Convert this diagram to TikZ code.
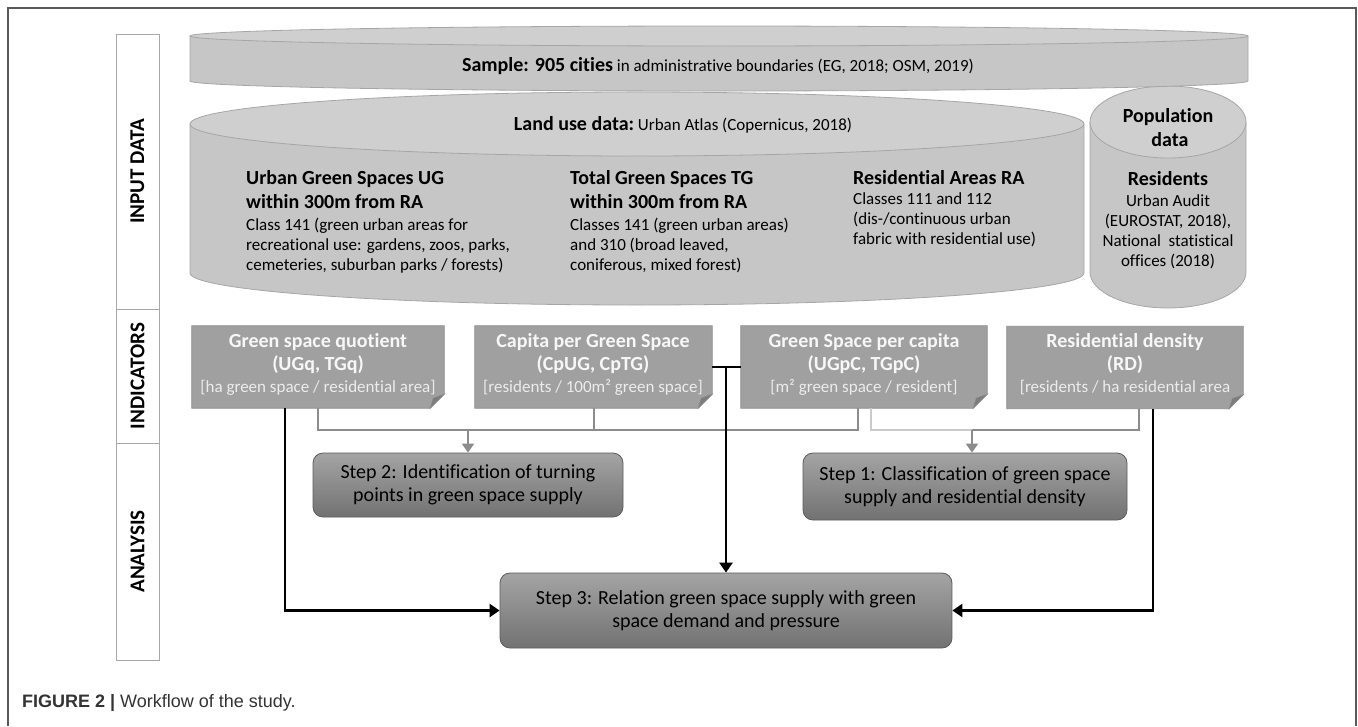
\documentclass[tikz,border=0pt]{standalone}
\usepackage{fontspec}
\setmainfont{Carlito}[Ligatures=NoCommon]
\newfontfamily\capfont{Liberation Sans}
\usetikzlibrary{arrows.meta,backgrounds}
\definecolor{framec}{HTML}{5A5A5A}
\definecolor{lblline}{HTML}{A8A8A8}
\definecolor{cylside}{HTML}{C6C6C6}
\definecolor{cyltop}{HTML}{CFCFCF}
\definecolor{cyledge}{HTML}{A6A6A6}
\definecolor{indfill}{HTML}{A0A0A0}
\definecolor{indedge}{HTML}{8A8A8A}
\definecolor{indfold}{HTML}{7C7C7C}
\definecolor{indtxt}{HTML}{F7F7F7}
\definecolor{brktxt}{HTML}{ECECEC}
\definecolor{conn}{HTML}{8C8C8C}
\definecolor{connlt}{HTML}{CACACA}
\definecolor{steptop}{HTML}{A4A4A4}
\definecolor{stepbot}{HTML}{727272}
\definecolor{stepedge}{HTML}{5C5C5C}
\definecolor{captxt}{HTML}{333333}
\newcommand\fhd{\fontsize{20}{24}\selectfont\bfseries}
\newcommand\fbd{\fontsize{17}{20}\selectfont\mdseries}
\tikzset{
  lbl/.style={draw=lblline, line width=1pt, fill=white, rotate=90, inner sep=0,
    font=\fontsize{21}{24}\selectfont\bfseries},
  txt/.style={inner sep=0, anchor=base west},
  ctxt/.style={inner sep=0, anchor=base},
  indbox/.style={inner sep=0, draw=none},
  indh/.style={inner sep=0, anchor=base, text=indtxt, font=\fhd},
  indb/.style={inner sep=0, anchor=base, text=brktxt, font=\fbd},
  stepbox/.style={draw=stepedge, line width=0.8pt, rounded corners=10pt,
    top color=steptop, bottom color=stepbot, align=center,
    font=\fontsize{20}{23}\selectfont, inner sep=0},
  gconn/.style={draw=conn, line width=2pt},
  lconn/.style={draw=connlt, line width=2pt},
  garrow/.style={draw=conn, line width=2pt, -{Triangle[length=9pt,width=12pt]}, color=conn},
  bline/.style={draw=black, line width=2.6pt},
  barrow/.style={draw=black, line width=2.6pt, -{Triangle[length=10pt,width=13pt]}},
}
\newcommand\notebox[1]{%
  \filldraw[fill=indfill, draw=indedge, line width=0.8pt]
    (#1.north west) -- (#1.north east) -- ([yshift=14pt]#1.south east)
    -- ([xshift=-14pt]#1.south east) -- (#1.south west) -- cycle;
  \filldraw[fill=indfold, draw=indedge, line width=0.6pt]
    ([yshift=14pt]#1.south east) -- ([xshift=-14pt]#1.south east)
    -- ([shift={(-11pt,10pt)}]#1.south east) -- cycle;}
\begin{document}
\begin{tikzpicture}[x=1pt,y=-1pt]
\useasboundingbox (0,0) rectangle (1358,726);
% frame
\draw[framec, line width=1.2pt] (8,726) -- (8,8) -- (1356,8) -- (1356,726);
% side labels
\node[lbl, minimum width=275pt, minimum height=43pt] (lin) at (137.5,171.5) {INPUT DATA};
\node[lbl, minimum width=134pt, minimum height=43pt] (lind) at (137.5,376) {INDICATORS};
\node[lbl, minimum width=217pt, minimum height=43pt] (lan) at (137.5,551.5) {ANALYSIS};
% land use cylinder
\fill[cylside] (190,124) -- (190,273) arc[start angle=180, end angle=0, x radius=447, y radius=32] -- (1084,124) -- cycle;
\draw[cyledge, line width=0.8pt] (190,124) -- (190,273) arc[start angle=180, end angle=0, x radius=447, y radius=32] -- (1084,124);
\draw[cyledge, line width=0.8pt, fill=cyltop] (637,124) ellipse[x radius=447, y radius=32];
% population cylinder
\fill[cylside] (1090,122) -- (1090,272) arc[start angle=180, end angle=0, x radius=78, y radius=36] -- (1246,122) -- cycle;
\draw[cyledge, line width=0.8pt] (1090,122) -- (1090,272) arc[start angle=180, end angle=0, x radius=78, y radius=36] -- (1246,122);
\draw[cyledge, line width=0.8pt, fill=cyltop] (1168,122) ellipse[x radius=78, y radius=36];
% sample disk
\fill[cylside] (190,36) -- (190,81) arc[start angle=180, end angle=0, x radius=529, y radius=10] -- (1248,36) -- cycle;
\draw[cyledge, line width=0.8pt] (190,36) -- (190,81) arc[start angle=180, end angle=0, x radius=529, y radius=10] -- (1248,36);
\draw[cyledge, line width=0.8pt, fill=cyltop] (719,36) ellipse[x radius=529, y radius=10];
% cylinder texts
\node[ctxt] (sample) at (718,71) {{\fhd Sample: 905 cities}{\fbd\ in administrative boundaries (EG, 2018; OSM, 2019)}};
\node[ctxt] (landuse) at (683,130) {{\fhd Land use data:}{\fbd\ Urban Atlas (Copernicus, 2018)}};
\node[txt, font=\fhd] (ug1) at (246,184) {Urban Green Spaces UG};
\node[txt, font=\fhd] (ug2) at (246,208) {within 300m from RA};
\node[txt, font=\fbd] (ug3) at (246,230) {Class 141 (green urban areas for};
\node[txt, font=\fbd] (ug4) at (246,250) {recreational use: gardens, zoos, parks,};
\node[txt, font=\fbd] (ug5) at (246,270) {cemeteries, suburban parks / forests)};
\node[txt, font=\fhd] (tg1) at (570,184) {Total Green Spaces TG};
\node[txt, font=\fhd] (tg2) at (570,208) {within 300m from RA};
\node[txt, font=\fbd] (tg3) at (570,230) {Classes 141 (green urban areas)};
\node[txt, font=\fbd] (tg4) at (570,250) {and 310 (broad leaved,};
\node[txt, font=\fbd] (tg5) at (570,270) {coniferous, mixed forest)};
\node[txt, font=\fhd] (ra1) at (853,184) {Residential Areas RA};
\node[txt, font=\fbd] (ra2) at (853,204) {Classes 111 and 112};
\node[txt, font=\fbd] (ra3) at (853,224) {(dis-/continuous urban};
\node[txt, font=\fbd] (ra4) at (853,244) {fabric with residential use)};
\node[ctxt, font=\fhd] (pop1) at (1168,122) {Population};
\node[ctxt, font=\fhd] (pop2) at (1170,146) {data};
\node[ctxt, font=\fhd] (res1) at (1168,185) {Residents};
\node[ctxt, font=\fbd] (res2) at (1168,206) {Urban Audit};
\node[ctxt, font=\fbd] (res3) at (1168,226) {(EUROSTAT, 2018),};
\node[ctxt, font=\fbd] (res4) at (1168,246) {National\ \ statistical};
\node[ctxt, font=\fbd] (res5) at (1168,266) {offices (2018)};
% indicator boxes
\node[indbox, minimum width=252pt, minimum height=82pt] (b1) at (318,367) {};
\node[indbox, minimum width=237pt, minimum height=82pt] (b2) at (593.5,367) {};
\node[indbox, minimum width=246pt, minimum height=82pt] (b3) at (864,367) {};
\node[indbox, minimum width=236pt, minimum height=82pt] (b4) at (1125,367.5) {};
\begin{scope}[on background layer]
\notebox{b1}\notebox{b2}\notebox{b3}\notebox{b4}
\end{scope}
\node[indh] (b1a) at (318,347) {Green space quotient};
\node[indh] (b1b) at (318,370) {(UGq, TGq)};
\node[indb] (b1c) at (318,392) {[ha green space / residential area]};
\node[indh] (b2a) at (593,347) {Capita per Green Space};
\node[indh] (b2b) at (593,370) {(CpUG, CpTG)};
\node[indb] (b2c) at (593,392) {[residents / 100m² green space]};
\node[indh] (b3a) at (864,347) {Green Space per capita};
\node[indh] (b3b) at (864,370) {(UGpC, TGpC)};
\node[indb] (b3c) at (864,392) {[m² green space / resident]};
\node[indh] (b4a) at (1125,347) {Residential density};
\node[indh] (b4b) at (1125,370) {(RD)};
\node[indb] (b4c) at (1125,392) {[residents / ha residential area};
% step boxes
\node[stepbox, minimum width=310pt, minimum height=64pt] (s2) at (468,485) {Step 2: Identification of turning\\points in green space supply};
\node[stepbox, minimum width=324pt, minimum height=67pt] (s1) at (965,486.5) {Step 1: Classification of green space\\supply and residential density};
\node[stepbox, minimum width=452pt, minimum height=75pt] (s3) at (726,610.5) {Step 3: Relation green space supply with green\\space demand and pressure};
% gray connectors to step 2
\coordinate (g2) at (s2.north |- 0,430);
\draw[gconn] (b1.south) |- ([xshift=-6pt]b3.south |- g2) -- ([xshift=-6pt]b3.south);
\draw[gconn] (b2.south) -- (b2.south |- g2);
\draw[garrow] (g2) -- (s2.north);
% connectors to step 1
\coordinate (s1in) at ([xshift=7pt]s1.north);
\coordinate (g1) at (s1in |- 0,430);
\draw[lconn] ([xshift=7pt]b3.south) |- (g1);
\draw[gconn] ([xshift=14pt]b4.south) |- (g1);
\draw[garrow] (g1) -- (s1in);
% black connectors to step 3
\draw[barrow] ([xshift=-33pt]b1.south) |- (s3.west);
\draw[barrow] ([xshift=28pt]b4.south) |- (s3.east);
\draw[bline] (b2.east) -- (b3.west);
\coordinate (mid) at (s3.north |- b2.east);
\draw[barrow] ([yshift=1.3pt]mid) -- (s3.north);
% caption
\node[txt, font=\capfont\fontsize{18}{20}\selectfont, text=captxt] (cap) at (22,707) {\textbf{FIGURE 2 |} Workflow of the study.};
\end{tikzpicture}
\end{document}
